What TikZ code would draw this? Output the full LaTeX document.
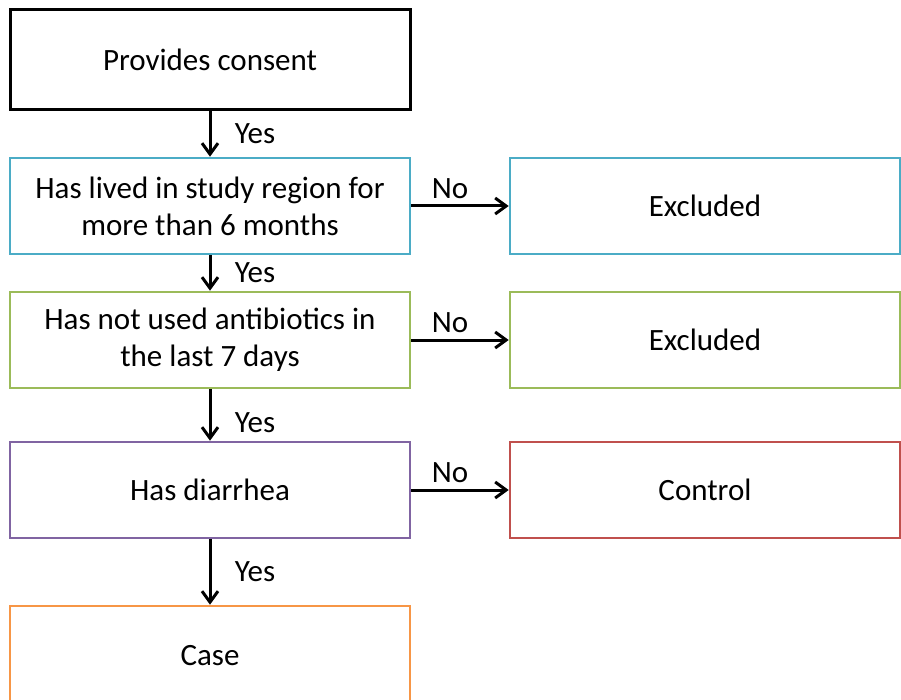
\documentclass[tikz,border=0pt]{standalone}
\usepackage{fontspec}
\setmainfont{Carlito}
\usetikzlibrary{arrows.meta}
\definecolor{cyanline}{HTML}{4BACC6}
\definecolor{greenline}{HTML}{9BBB59}
\definecolor{purpleline}{HTML}{8064A2}
\definecolor{redline}{HTML}{C0504D}
\definecolor{orangeline}{HTML}{F79646}
\tikzset{
  stepbox/.style={draw, line width=2.6pt, minimum width=400pt, minimum height=96pt,
    align=center, font=\fontsize{31}{37}\selectfont, inner sep=0pt},
  sidebox/.style={stepbox, minimum width=390pt},
  arr/.style={-{Straight Barb[length=11pt,width=16pt]}, line width=3pt},
  lbl/.style={font=\fontsize{31}{37}\selectfont}
}
\begin{document}
\begin{tikzpicture}[x=1pt,y=1pt]
            \useasboundingbox (0,0) rectangle (901,-700);
            \node[stepbox, draw=black, line width=3pt, minimum height=100pt] (consent) at (210,-60) {Provides consent};
            \node[stepbox, draw=cyanline] (lived) at (210,-206) {Has lived in study region for\\more than 6 months};
            \node[stepbox, draw=greenline] (antib) at (210,-340) {Has not used antibiotics in\\the last 7 days};
            \node[stepbox, draw=purpleline] (diarrhea) at (210,-490) {Has diarrhea};
            \node[stepbox, draw=orangeline, minimum height=100pt] (case) at (210,-656) {Case};
            \node[sidebox, draw=cyanline] (excl1) at (705,-206) {Excluded};
            \node[sidebox, draw=greenline] (excl2) at (705,-340) {Excluded};
            \node[sidebox, draw=redline] (control) at (705,-490) {Control};
            % yes arrows
            \draw[arr] (consent) -- node[lbl, right=20pt] {Yes} (lived);
            \draw[arr] (lived) -- node[lbl, right=20pt] {Yes} (antib);
            \draw[arr] (antib) -- node[lbl, right=20pt, yshift=-8pt] {Yes} (diarrhea);
            \draw[arr] (diarrhea) -- node[lbl, right=20pt] {Yes} (case);
            % no arrows
            \draw[arr] (lived) -- node[lbl, above=2pt, xshift=-10pt] {No} (excl1);
            \draw[arr] (antib) -- node[lbl, above=2pt, xshift=-10pt] {No} (excl2);
            \draw[arr] (diarrhea) -- node[lbl, above=2pt, xshift=-10pt] {No} (control);
\end{tikzpicture}
\end{document}
